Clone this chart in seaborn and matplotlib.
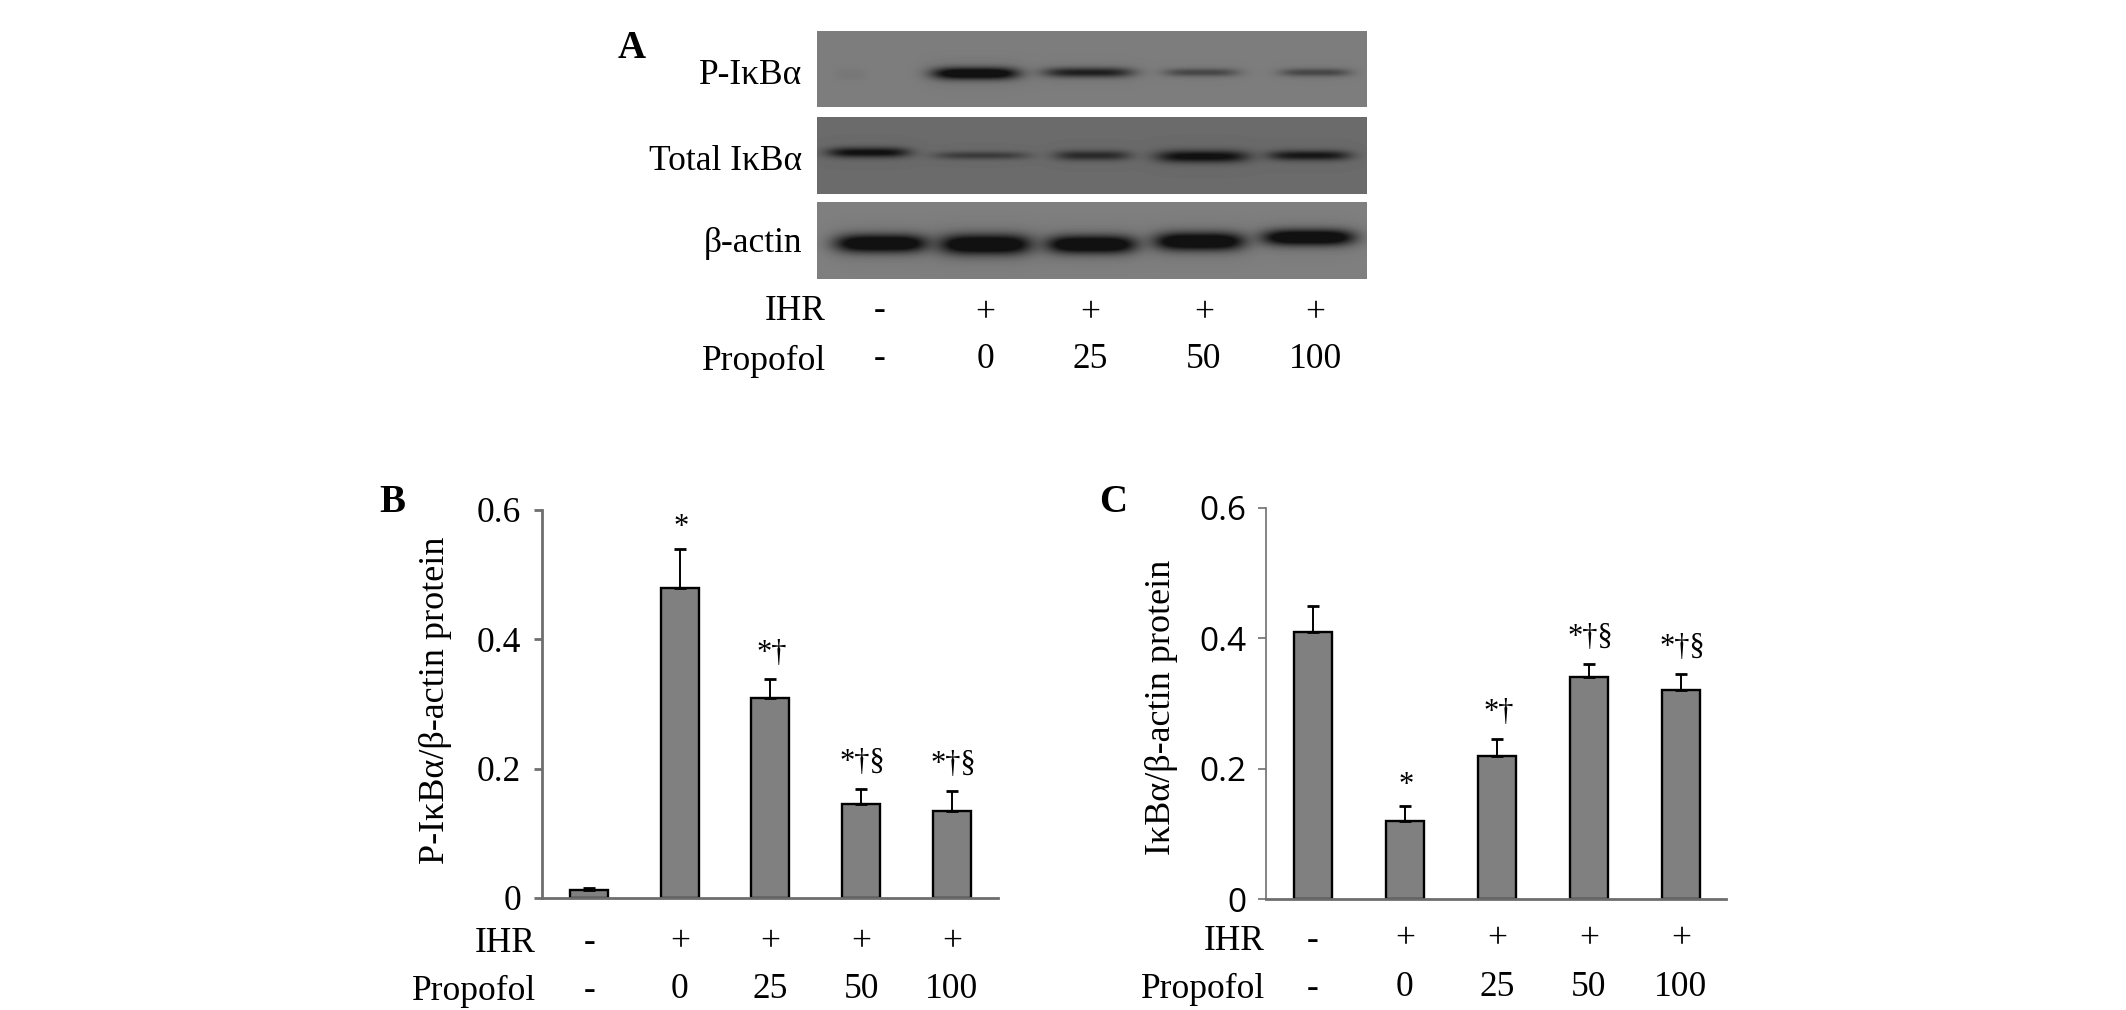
import numpy as np
import pandas as pd
import matplotlib
matplotlib.use("Agg")
import matplotlib.pyplot as plt
from matplotlib.transforms import blended_transform_factory
import seaborn as sns

# datos
grupos = ["control", "0", "25", "50", "100"]
ihr = ["-", "+", "+", "+", "+"]
propofol = ["-", "0", "25", "50", "100"]
sig_b = ["", "*", "*†", "*†§", "*†§"]
sig_c = ["", "*", "*†", "*†§", "*†§"]

valores_b = [0.012, 0.48, 0.31, 0.145, 0.135]
error_b = [0.003, 0.06, 0.028, 0.023, 0.03]
valores_c = [0.41, 0.12, 0.22, 0.34, 0.32]
error_c = [0.04, 0.022, 0.025, 0.021, 0.025]
yticks = [0, 0.2, 0.4, 0.6]
yticklabels = ["0", "0.2", "0.4", "0.6"]

# western blot: intensidad de cada banda por carril
blot_nombres = ["P-IκBα", "Total IκBα", "β-actin"]
blot_fondo = [0.49, 0.42, 0.50]
banda_p = [0.04, 0.95, 0.62, 0.36, 0.36]
banda_total = [0.75, 0.38, 0.52, 0.78, 0.68]
banda_actina = [1.0, 1.0, 1.0, 1.0, 1.0]

# geometria del blot en pixeles
filas_y = [(31, 107), (117, 194), (202, 279)]
centro_x = [[850, 975, 1088, 1201, 1315], [868, 981, 1092, 1202, 1309], [881, 985, 1091, 1199, 1308]]
semi_ancho = [[15, 43, 45, 37, 35], [41, 47, 38, 46, 41], [46, 46, 45, 45, 46]]
centro_y = [[74, 73, 72, 72, 72], [152, 155, 155, 156, 155], [243, 244, 244, 241, 237]]
semi_alto = [[6, 6, 5, 4, 4], [5, 4, 5, 6, 5], [9, 10, 9, 9, 8]]

sns.set_style("white")
serif = ["Liberation Serif", "DejaVu Serif"]
plt.rcParams["font.family"] = serif
plt.rcParams["text.color"] = "black"
plt.rcParams["axes.labelcolor"] = "black"
plt.rcParams["ytick.labelcolor"] = "black"

W, H = 2126, 1010
TEXTO = 25.5
fig = plt.figure(figsize=(W / 100, H / 100), dpi=100, facecolor="white")

# capa en pixeles para el panel A y los textos
capa = fig.add_axes([0, 0, 1, 1])
capa.axis("off")


def dibujar_blot(fila, intensidades):
    y0, y1 = filas_y[fila]
    xx, yy = np.meshgrid(np.arange(817, 1367), np.arange(y0, y1))
    img = np.full(xx.shape, blot_fondo[fila], dtype=float)
    for c, a, yc, h, d in zip(centro_x[fila], semi_ancho[fila], centro_y[fila], semi_alto[fila], intensidades):
        perfil = np.exp(-((xx - c) / a) ** 4) * np.exp(-((yy - yc) / h) ** 2)
        halo = np.exp(-((xx - c) / (a * 1.2)) ** 4) * np.exp(-((yy - yc) / (h * 2.4)) ** 2)
        img -= (img - 0.07) * np.clip(d * perfil * 1.35 + 0.08 * d * halo, 0, 1)
    capa.imshow(img, extent=(817, 1367, y1, y0), cmap="gray", vmin=0, vmax=1, aspect="auto", interpolation="bilinear")


ajuste_nombre = [7, 7, 4]
for i, banda in enumerate([banda_p, banda_total, banda_actina]):
    dibujar_blot(i, banda)
    capa.text(802, (filas_y[i][0] + filas_y[i][1]) / 2 - 1 + ajuste_nombre[i], blot_nombres[i],
              ha="right", va="center", fontsize=TEXTO)

capa.set_xlim(0, W)
capa.set_ylim(H, 0)

capa.text(826, 312, "IHR", ha="right", va="center", fontsize=TEXTO)
capa.text(826, 361, "Propofol", ha="right", va="center", fontsize=TEXTO)
for x, a, b in zip([880, 985, 1090, 1204, 1315], ihr, propofol):
    capa.text(x, 314 if a == "+" else 311, a, ha="center", va="center", fontsize=TEXTO)
    capa.text(x, 359, b, ha="center", va="center", fontsize=TEXTO)

capa.text(632, 48, "A", ha="center", va="center", fontsize=28, fontweight="bold")
capa.text(392, 503, "B", ha="center", va="center", fontsize=28, fontweight="bold")
capa.text(1113, 503, "C", ha="center", va="center", fontsize=28, fontweight="bold")


def panel(caja, valores, errores, sig, ylabel, ylabel_pos, lim_x, fila_y, etiqueta_x, lw_y, tick_font, tick_size, pad):
    x0, y0, x1, y1 = caja
    ax = fig.add_axes([x0 / W, 1 - y1 / H, (x1 - x0) / W, (y1 - y0) / H])
    ax.patch.set_visible(False)
    df = pd.DataFrame({"grupo": grupos, "valor": valores})
    sns.barplot(data=df, x="grupo", y="valor", order=grupos, color="#808080", saturation=1,
                edgecolor="black", linewidth=1.7, width=0.42, ax=ax, errorbar=None)
    ax.errorbar(range(len(valores)), valores, yerr=[np.zeros(len(errores)), errores], fmt="none",
                ecolor="black", elinewidth=1.4, capsize=4, capthick=2)
    ax.set_xlim(*lim_x)
    ax.set_ylim(0, 0.6)
    ax.set_xticks([])
    ax.set_xlabel("")
    ax.set_yticks(yticks)
    ax.set_yticklabels(yticklabels, family=tick_font, fontsize=tick_size)
    ax.tick_params(axis="y", left=True, length=6, width=lw_y, color="#6e6e6e", pad=pad)
    sns.despine(ax=ax)
    ax.spines["left"].set_linewidth(lw_y)
    ax.spines["left"].set_color("#6e6e6e")
    ax.spines["bottom"].set_linewidth(2)
    ax.spines["bottom"].set_color("#6e6e6e")
    ax.set_ylabel(ylabel, fontsize=26)
    ax.yaxis.set_label_coords(ylabel_pos[0], ylabel_pos[1], transform=capa.transData)
    ax.yaxis.label.set_va("center")

    for i, s in enumerate(sig):
        if s:
            ax.annotate(s, (i, valores[i] + errores[i]), xytext=(1, 15 if len(s) == 1 else 19), textcoords="offset points",
                        ha="center", va="center", fontsize=22)

    mezcla = blended_transform_factory(ax.transData, capa.transData)
    for i, (a, b) in enumerate(zip(ihr, propofol)):
        ax.text(i, fila_y[0], a, transform=mezcla, ha="center", va="center", fontsize=TEXTO, clip_on=False)
        ax.text(i, fila_y[1], b, transform=mezcla, ha="center", va="center", fontsize=TEXTO, clip_on=False)
    capa.text(etiqueta_x, fila_y[0] + 1, "IHR", ha="right", va="center", fontsize=TEXTO)
    capa.text(etiqueta_x, fila_y[1] + 1, "Propofol", ha="right", va="center", fontsize=TEXTO)


panel((542, 510, 998, 898), valores_b, error_b, sig_b, "P-IκBα/β-actin protein", (435, 700),
      (-0.52, 4.51), (943, 990), 536, 2, serif, 25.5, 9)
panel((1266, 508, 1726, 899), valores_c, error_c, sig_c, "IκBα/β-actin protein", (1162, 707),
      (-0.51, 4.49), (940, 988), 1265, 1.2, ["Open Sans", "DejaVu Sans"], 24, 8)

fig.savefig("out.png", dpi=100)
